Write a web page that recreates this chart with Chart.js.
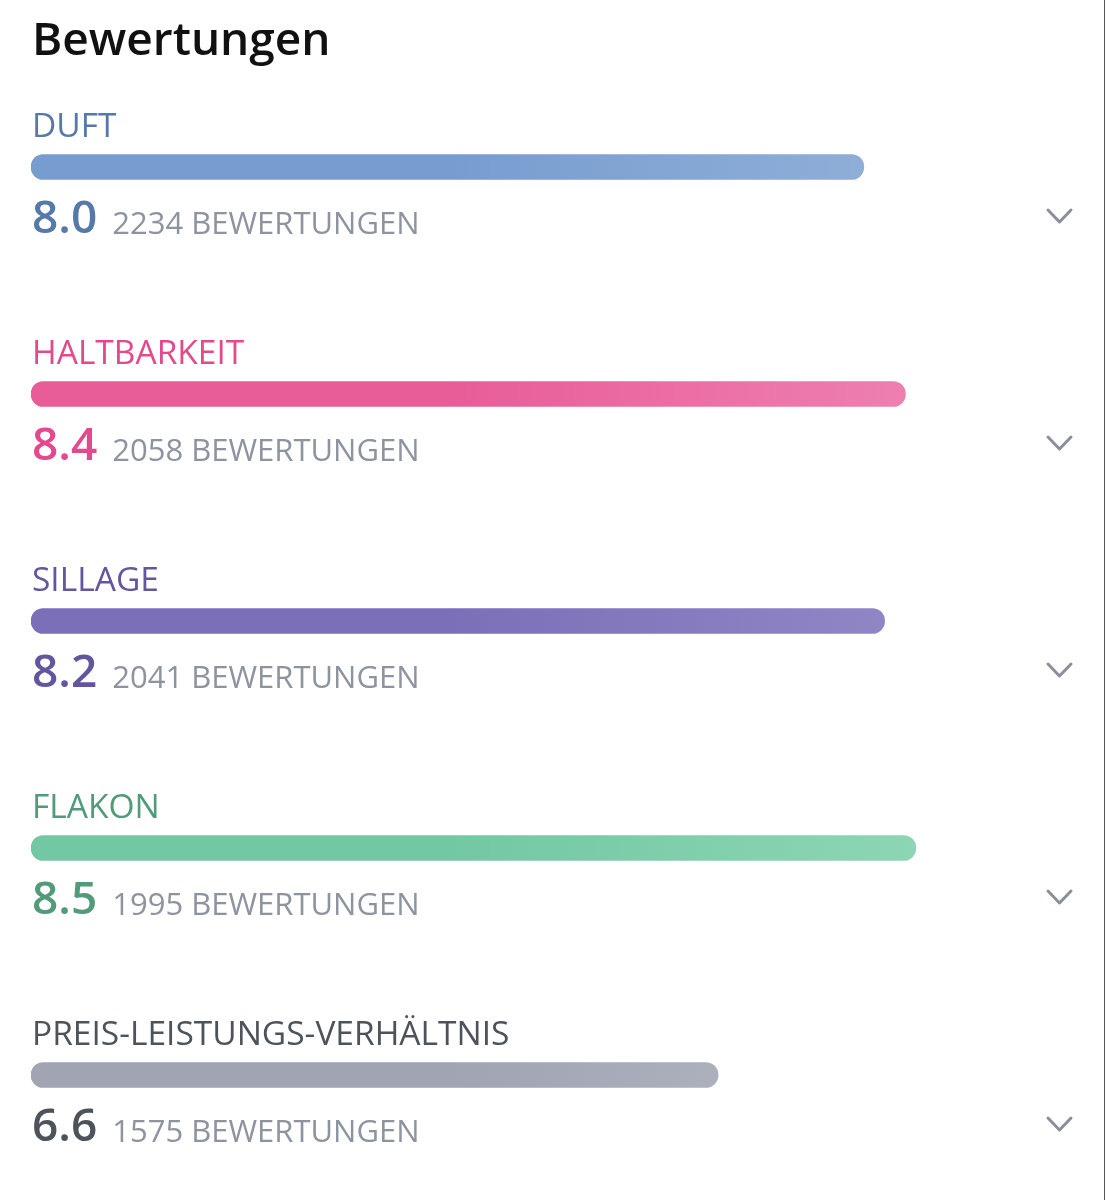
<!DOCTYPE html>
<html lang="de">
<head>
<meta charset="utf-8">
<title>Bewertungen</title>
<script src="https://cdn.jsdelivr.net/npm/chart.js@4/dist/chart.umd.min.js"></script>
<style>
  html, body { margin: 0; padding: 0; background: #fff; }
  #wrap { position: relative; width: 1106px; height: 1200px; overflow: hidden; }
  #edge { position: absolute; top: 0; right: 1px; width: 1px; height: 1200px; background: #5a5a5a; }
</style>
</head>
<body>
<div id="wrap">
  <canvas id="ratings" width="1106" height="1200"></canvas>
  <div id="edge"></div>
</div>
<script>
// Data
const categories = ['DUFT', 'HALTBARKEIT', 'SILLAGE', 'FLAKON', 'PREIS-LEISTUNGS-VERHÄLTNIS'];
const scores = [8.0, 8.4, 8.2, 8.5, 6.6];
const voteCounts = [2234, 2058, 2041, 1995, 1575];

// Styling per row
const labelColors = ['#5779aa', '#e24a8d', '#64559f', '#519b79', '#4d535b'];
const barStart = ['#779dcf', '#e85c98', '#7b6fb9', '#72c8a3', '#a0a4b3'];
const barEnd = ['#9ab6dc', '#f08cb9', '#998fca', '#95dabb', '#bcc0c9'];
const FONT = '"Open Sans", "Noto Sans", sans-serif';

function barGradient(ctx) {
  const chart = ctx.chart;
  const area = chart.chartArea;
  if (!area) return barStart[ctx.dataIndex];
  const el = chart.getDatasetMeta(0).data[ctx.dataIndex];
  const end = el && el.x ? el.x : area.right;
  const g = chart.ctx.createLinearGradient(area.left, 0, end, 0);
  g.addColorStop(0, barStart[ctx.dataIndex]);
  g.addColorStop(0.4, barStart[ctx.dataIndex]);
  g.addColorStop(1, barEnd[ctx.dataIndex]);
  return g;
}

// Texts around the bars: title, category name, score, count, chevron
const ratingText = {
  id: 'ratingText',
  afterDatasetsDraw(chart) {
    const c = chart.ctx;
    const meta = chart.getDatasetMeta(0);
    const left = chart.chartArea.left;
    c.save();
    c.textBaseline = 'alphabetic';
    c.textAlign = 'left';
    c.fillStyle = '#111111';
    c.font = '600 46px ' + FONT;
    c.fillText('Bewertungen', 32, 55);

    meta.data.forEach((bar, i) => {
      const y = bar.y;
      c.fillStyle = labelColors[i];
      c.font = '400 33.5px ' + FONT;
      c.fillText(categories[i], left + 1, y - 30);

      c.font = '600 46px ' + FONT;
      const scoreTxt = scores[i].toFixed(1);
      c.fillText(scoreTxt, left + 1, y + 66);
      const w = c.measureText(scoreTxt).width;

      c.fillStyle = '#8d939f';
      c.font = '400 31px ' + FONT;
      c.fillText(voteCounts[i] + ' BEWERTUNGEN', left + w + 16, y + 67);

      // chevron
      c.strokeStyle = '#8a8f99';
      c.lineWidth = 3;
      c.lineCap = 'round';
      c.lineJoin = 'round';
      c.beginPath();
      c.moveTo(1048, y + 43);
      c.lineTo(1059.5, y + 55);
      c.lineTo(1071, y + 43);
      c.stroke();
    });
    c.restore();
  }
};

new Chart(document.getElementById('ratings').getContext('2d'), {
  type: 'bar',
  data: {
    labels: categories,
    datasets: [{
      data: scores,
      backgroundColor: barGradient,
      borderRadius: 13,
      borderSkipped: false,
      barThickness: 25
    }]
  },
  options: {
    indexAxis: 'y',
    responsive: false,
    animation: false,
    layout: { padding: { left: 31, right: 34, top: 53.5, bottom: 11.5 } },
    plugins: {
      legend: { display: false },
      tooltip: { enabled: false }
    },
    scales: {
      x: { min: 0, max: 10, display: false },
      y: { display: false }
    }
  },
  plugins: [ratingText]
});
</script>
</body>
</html>
